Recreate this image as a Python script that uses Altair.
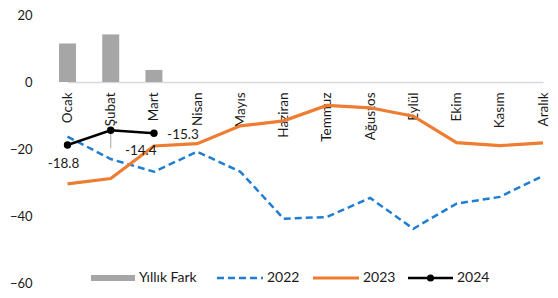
import altair as alt
import pandas as pd

months = ["Ocak", "Şubat", "Mart", "Nisan", "Mayıs", "Haziran", "Temmuz",
          "Ağustos", "Eylül", "Ekim", "Kasım", "Aralık"]
yillik_fark = [11.5, 14.2, 3.6]
s2022 = [-16.3, -23.0, -26.8, -20.8, -26.8, -40.8, -40.3, -34.6, -43.8, -36.3, -34.3, -28.0]
s2023 = [-30.4, -28.8, -19.1, -18.4, -13.1, -11.6, -7.0, -7.7, -10.2, -18.1, -19.0, -18.2]
s2024 = [-18.8, -14.4, -15.3]

FONT = "Lato"
TXT = "#1a1a1a"
H = 268

bars = pd.DataFrame({"ay": months[:3], "v": yillik_fark})
d22 = pd.DataFrame({"ay": months, "v": s2022})
d23 = pd.DataFrame({"ay": months, "v": s2023})
d24 = pd.DataFrame({"ay": months[:3], "v": s2024})
d24["lbl"] = [f"{v:.1f}" for v in s2024]

xscale = alt.Scale(type="point", domain=months, range=[22.5, 498], padding=0)
yscale = alt.Scale(domain=[-60, 20], nice=False, zero=False)

x_axis = alt.Axis(title=None, orient="bottom", offset=-(H - H / 4), labelAngle=270,
                  labelAlign="right", labelBaseline="middle", labelPadding=10,
                  ticks=False, domainColor="#d9d9d9", domainWidth=1.5,
                  labelFont=FONT, labelFontSize=13.5, labelColor=TXT, grid=False)
y_axis = alt.Axis(title=None, values=[-60, -40, -20, 0, 20], ticks=False, domain=False,
                  grid=False, labelPadding=13, labelFont=FONT, labelFontSize=13,
                  labelColor=TXT)

X = alt.X("ay:N", scale=xscale, axis=x_axis, sort=months)
Y = alt.Y("v:Q", scale=yscale, axis=y_axis)

bar_layer = alt.Chart(bars).mark_bar(size=17, color="#a6a6a6").encode(x=X, y=Y, y2=alt.datum(0))
l22 = alt.Chart(d22).mark_line(color="#1f7ed1", strokeWidth=2.5, strokeDash=[7, 4]).encode(x=X, y=Y)
l23 = alt.Chart(d23).mark_line(color="#ee7d31", strokeWidth=3.2).encode(x=X, y=Y)
l24 = alt.Chart(d24).mark_line(color="#000000", strokeWidth=2.5,
                               point=alt.OverlayMarkDef(color="#000000", size=55, filled=True, opacity=1)).encode(x=X, y=Y)

offsets = [(-4, 19), (30, 21), (29, 2)]
texts = []
for i, (dx, dy) in enumerate(offsets):
    texts.append(alt.Chart(d24.iloc[[i]]).mark_text(dx=dx, dy=dy, font=FONT, fontSize=13.5,
                                                    color=TXT, align="center", baseline="middle")
                 .encode(x=X, y=Y, text="lbl:N"))

# leader line for Şubat label
lead_v = alt.Chart(d24.iloc[[1]]).mark_rule(color="#a6a6a6", strokeWidth=1).encode(
    x=X, y=Y, y2=alt.datum(-19.8))

# legend
LY = 263
FS = 14
leg = [
    alt.Chart(bars.iloc[[0]]).mark_rule(color="#a6a6a6", strokeWidth=6).encode(
        x=alt.value(46), x2=alt.value(90), y=alt.value(LY)),
    alt.Chart(bars.iloc[[0]]).mark_text(text="Yıllık Fark", align="left", baseline="middle",
                                        font=FONT, fontSize=FS, color=TXT).encode(
        x=alt.value(94), y=alt.value(LY)),
    alt.Chart(bars.iloc[[0]]).mark_rule(color="#1f7ed1", strokeWidth=2.5, strokeDash=[7, 4]).encode(
        x=alt.value(172), x2=alt.value(218), y=alt.value(LY)),
    alt.Chart(bars.iloc[[0]]).mark_text(text="2022", align="left", baseline="middle",
                                        font=FONT, fontSize=FS, color=TXT).encode(
        x=alt.value(222), y=alt.value(LY)),
    alt.Chart(bars.iloc[[0]]).mark_rule(color="#ee7d31", strokeWidth=3.2).encode(
        x=alt.value(268), x2=alt.value(314), y=alt.value(LY)),
    alt.Chart(bars.iloc[[0]]).mark_text(text="2023", align="left", baseline="middle",
                                        font=FONT, fontSize=FS, color=TXT).encode(
        x=alt.value(318), y=alt.value(LY)),
    alt.Chart(bars.iloc[[0]]).mark_rule(color="#000000", strokeWidth=2.5).encode(
        x=alt.value(363), x2=alt.value(408), y=alt.value(LY)),
    alt.Chart(bars.iloc[[0]]).mark_point(color="#000000", filled=True, size=50, opacity=1).encode(
        x=alt.value(385.5), y=alt.value(LY)),
    alt.Chart(bars.iloc[[0]]).mark_text(text="2024", align="left", baseline="middle",
                                        font=FONT, fontSize=FS, color=TXT).encode(
        x=alt.value(412), y=alt.value(LY)),
]

chart = alt.layer(bar_layer, l22, l23, lead_v, l24, *texts, *leg).properties(
    width=505, height=H,
    padding={"left": 37, "top": 7, "right": 0, "bottom": 7},
    autosize=alt.AutoSizeParams(type="none"),
    background="white",
).configure_view(stroke=None)

chart.save("out.html", embed_options={"renderer": "svg", "actions": False})
